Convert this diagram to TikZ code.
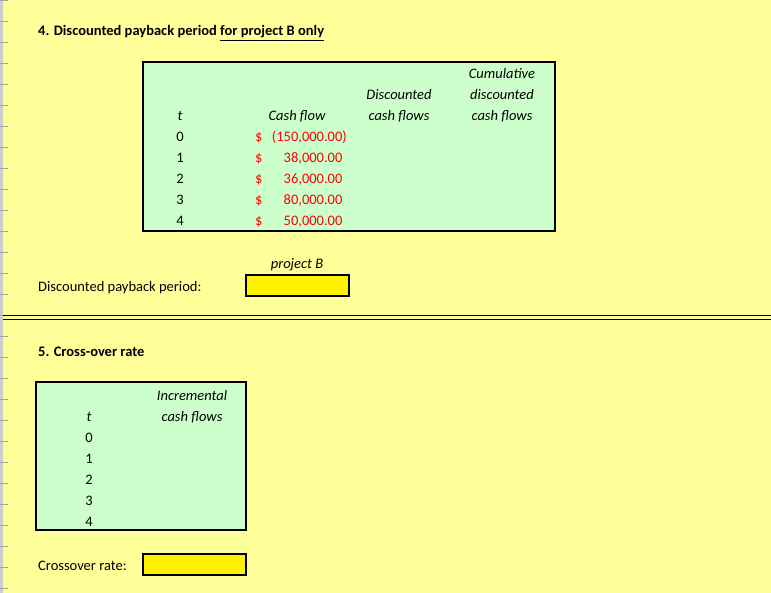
\documentclass[tikz,border=0pt]{standalone}
\usepackage{fontspec}
\setmainfont{Carlito}
\definecolor{bg}{HTML}{FFFF99}
\definecolor{tbl}{HTML}{CCFFCC}
\definecolor{cf}{HTML}{FF0000}
\begin{document}
\begin{tikzpicture}[x=1pt,y=-1pt,font=\fontsize{14.5}{16}\selectfont,
  txt/.style={inner sep=0pt,anchor=base west},
  ctr/.style={inner sep=0pt,anchor=base,font=\fontsize{14.5}{16}\selectfont\itshape},
  num/.style={inner sep=0pt,anchor=base east,text=cf},
  panel/.style={draw=black,line width=2pt,fill=tbl},
  input/.style={draw=black,line width=2pt,fill=yellow}]
\fill[bg] (0,0) rectangle (771,593);
\useasboundingbox (0,0) rectangle (771,593);
\fill[gray!40] (0,0) rectangle (3,593);
\foreach \y in {0,21,...,593} \draw[gray!70,line width=0.6pt] (0,\y) -- (8,\y);
% Section 4
\node[txt] (t4) at (38,36) {\textbf{4. Discounted payback period \underline{for project B only}}};
\draw[panel] (143,62) rectangle (555,231);
\node[ctr] (h1) at (502,79) {Cumulative};
\node[ctr] (h2) at (502,100) {discounted};
\node[ctr] (h3) at (502,121) {cash flows};
\node[ctr] (h4) at (399,100) {Discounted};
\node[ctr] (h5) at (399,121) {cash flows};
\node[ctr] (h6) at (297,121) {Cash flow};
\node[ctr] (h7) at (180,121) {t};
\foreach \t/\v [count=\i from 0] in {0/{(150,000.00)},1/{38,000.00\hphantom{)}},2/{36,000.00\hphantom{)}},3/{80,000.00\hphantom{)}},4/{50,000.00\hphantom{)}}}{
  \node[inner sep=0pt,anchor=base] (r\i) at (180,142+21*\i) {\t};
  \node[inner sep=0pt,anchor=base west,text=cf] (d\i) at (255,142+21*\i) {\$};
  \node[num] (v\i) at (347,142+21*\i) {\v};
}
\node[ctr] (pb) at (297,269) {project B};
\draw[input] (246,275) rectangle (349,296);
\node[txt] (dpp) at (38,292) {Discounted payback period:};
\draw[black,line width=1pt] (3,316) -- (771,316) (3,320) -- (771,320);
% Section 5
\node[txt] (t5) at (38,357) {\textbf{5. Cross-over rate}};
\draw[panel] (36,382) rectangle (246,530);
\node[ctr] (i1) at (192,400) {Incremental};
\node[ctr] (i2) at (192,421) {cash flows};
\node[ctr] (tt) at (89,421) {t};
\foreach \i in {0,...,4} \node[inner sep=0pt,anchor=base] (s\i) at (89,442+21*\i) {\i};
\node[txt] (cr) at (38,570) {Crossover rate:};
\draw[input] (143,554) rectangle (246,575);
\end{tikzpicture}
\end{document}
